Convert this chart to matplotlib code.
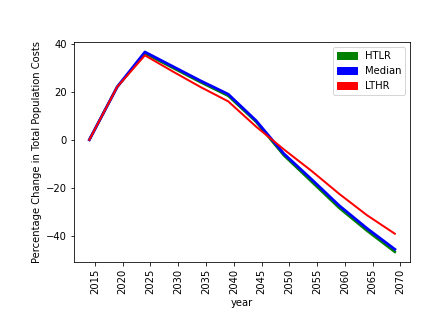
import matplotlib
matplotlib.use("Agg")
import matplotlib.pyplot as plt
from matplotlib.patches import Patch

years = [2014, 2019, 2024, 2029, 2034, 2039, 2044, 2049, 2054, 2059, 2064, 2069]
htlr = [0, 22, 36, 30, 24, 18.3, 7.5, -6.5, -17.5, -28.5, -38, -46.8]
median = [0, 22, 36.6, 30.6, 24.6, 19, 8, -5.8, -16.5, -27.5, -37, -45.7]
lthr = [0, 22, 35.2, 28.5, 22, 16, 5.5, -4, -13, -22.6, -31.5, -39.2]

series_names = ["HTLR", "Median", "LTHR"]
colors = ["green", "blue", "red"]

fig = plt.figure(figsize=(441/72, 323/72), dpi=72)
ax = fig.add_axes([0.168, 0.189, 0.762, 0.681])

ax.plot(years, htlr, color="green", lw=2.5)
ax.plot(years, median, color="blue", lw=2.8)
ax.plot(years, lthr, color="red", lw=2)

ax.set_xticks(list(range(2015, 2071, 5)))
ax.tick_params(axis="x", labelrotation=90)
ax.set_xlabel("year")
ax.set_ylabel("Percentage Change in Total Population Costs")

handles = [Patch(color=c, label=n) for c, n in zip(colors, series_names)]
ax.legend(handles=handles, loc="upper right")

fig.savefig("out.png", dpi=72)
